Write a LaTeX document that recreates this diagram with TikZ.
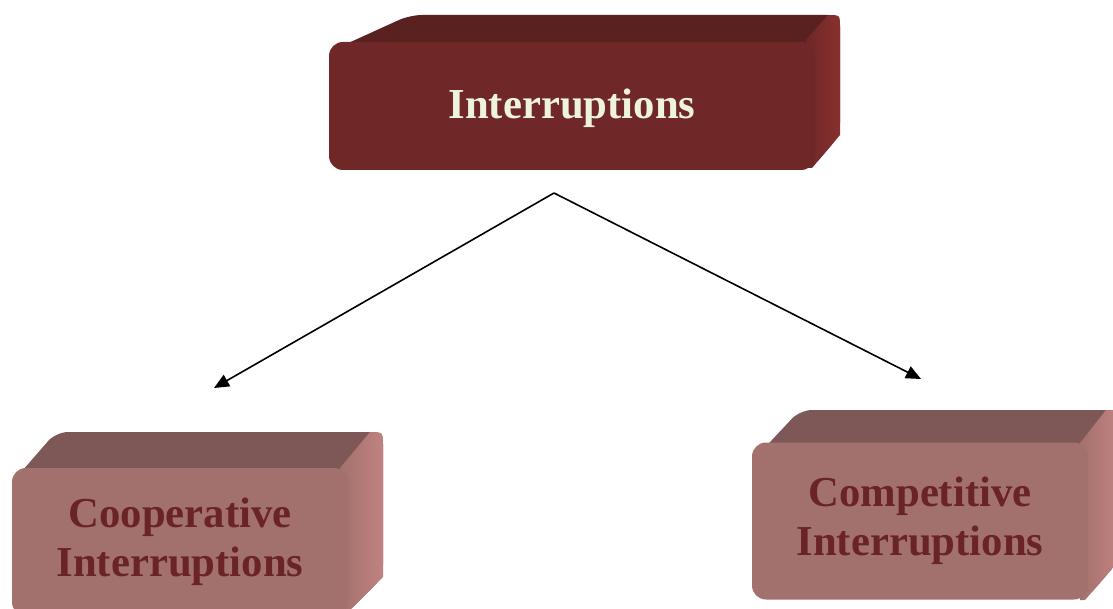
\documentclass[tikz,border=0pt]{standalone}
\usepackage{fontspec}
\setmainfont{Liberation Serif}
\usetikzlibrary{arrows.meta,calc}
\definecolor{rootfront}{HTML}{6F2727}
\definecolor{roottop}{HTML}{5A2121}
\definecolor{rootside}{HTML}{88302E}
\definecolor{leaffront}{HTML}{A3716D}
\definecolor{leaftop}{HTML}{7E5857}
\definecolor{leafside}{HTML}{C08280}
\definecolor{cream}{HTML}{EEF3DE}
\definecolor{wine}{HTML}{6A2425}
\newcommand{\boxfont}{\fontsize{42.7}{49}\selectfont\bfseries}

\begin{document}
\begin{tikzpicture}[x=1pt,y=-1pt,font=\boxfont,
  rootbox/.style={fill=rootfront,rounded corners=14,inner sep=0,minimum width=486,minimum height=128,text=cream},
  leafbox/.style={fill=leaffront,rounded corners=14,inner sep=0,minimum width=336,align=center,text=wine},
  branch/.style={black,line width=1.6pt,-{Triangle[length=15pt,width=13pt]}}]
\useasboundingbox (0,0) rectangle (1113,609);
\clip (0,0) rectangle (1113,609);
% root block, depth faces
\fill[roottop,rounded corners=12] (333,50) -- (410,15) -- (840,15) -- (840,135) -- (812,168) -- cycle;
\shade[left color=rootfront,right color=rootside] (806,40) -- (828,15) .. controls (840,15) .. (840,27) -- (840,135) -- (812,168) -- (806,168) -- cycle;
\node[rootbox,text depth=4pt] (root) at (572,106) {Interruptions};
% left block, depth faces
\fill[leaftop,rounded corners=12] (16,478) -- (56,432) -- (383,432) -- (383,577) -- (345,615) -- cycle;
\shade[left color=leaffront,right color=leafside] (340,468) -- (370,432) .. controls (383,432) .. (383,445) -- (383,577) -- (345,615) -- (340,615) -- cycle;
\node[leafbox,minimum height=148] (coop) at (180,542) {Cooperative\\Interruptions};
% right block, depth faces
\fill[leaftop,rounded corners=12] (757,456) -- (800,410) -- (1118,410) -- (1118,562) -- (1085,600) -- cycle;
\shade[left color=leaffront,right color=leafside] (1080,443) -- (1106,410) .. controls (1118,410) .. (1118,423) -- (1118,562) -- (1085,600) -- (1080,600) -- cycle;
\node[leafbox,minimum height=157] (comp) at (920,521) {Competitive\\Interruptions};
% connectors
\coordinate (fork) at (554,193);
\coordinate (coopend) at (214,388);
\coordinate (compend) at (921,379);
\draw[branch] (fork) -- (coopend);
\draw[branch] (fork) -- (compend);
\end{tikzpicture}
\end{document}
